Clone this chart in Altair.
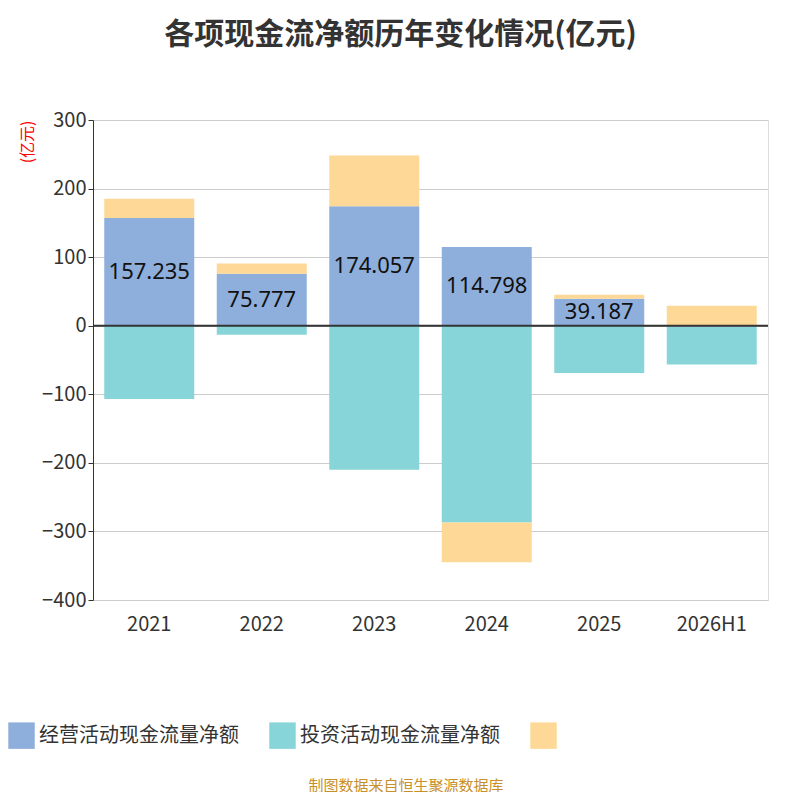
import altair as alt
import pandas as pd

years = ["2021", "2022", "2023", "2024", "2025", "2026H1"]
operating = [157.235, 75.777, 174.057, 114.798, 39.187, -1.5]
investing = [-107, -13, -210, -287, -69, -55]
financing = [28, 15, 74, -58, 6, 29]
series = ["经营活动现金流量净额", "投资活动现金流量净额", "筹资活动现金流量净额"]
colors = ["#8eaedb", "#88d5d9", "#fed896"]

rows = []
for i, y in enumerate(years):
    for k, (s, vals) in enumerate(zip(series, [operating, investing, financing])):
        rows.append({"year": y, "series": s, "value": vals[i], "order": k})
df = pd.DataFrame(rows)
lab = pd.DataFrame({"year": years[:5], "mid": [v / 2 for v in operating[:5]],
                    "label": [f"{v:g}" for v in operating[:5]]})

xenc = alt.X("year:N", sort=years, title=None,
             scale=alt.Scale(paddingInner=0.2, paddingOuter=0.1),
             axis=alt.Axis(domain=False, ticks=False, labelAngle=0, labelFontSize=20, labelAlign="center",
                           labelColor="#333", labelPadding=14))
yscale = alt.Scale(domain=[-400, 300], nice=False)

text = alt.Chart(lab).mark_text(fontSize=22, color="#111", font="Noto Sans").encode(
    x=alt.X("year:N", sort=years), y=alt.Y("mid:Q", scale=yscale), text="label:N")

bars = alt.Chart(df).mark_bar().encode(
    x=xenc,
    y=alt.Y("value:Q", scale=yscale, stack="zero", title="(亿元)",
            axis=alt.Axis(values=list(range(-400, 301, 100)), labelFontSize=20, labelColor="#333",
                          domainColor="#333", tickColor="#333", gridColor="#ccc",
                          titleColor="red", titleFontSize=16, titleFontWeight="normal",
                          titleAngle=270, titleAnchor="end", titleAlign="right", titleY=0, titleX=-58)),
    color=alt.Color("series:N", sort=series, scale=alt.Scale(domain=series, range=colors),
                    legend=alt.Legend(orient="none", legendX=-85, legendY=602, direction="horizontal",
                                      title=None, symbolType="square", symbolSize=700,
                                      symbolStrokeWidth=0, labelFontSize=20, labelColor="#333",
                                      columnPadding=30, labelLimit=0,
                                      labelExpr="datum.label == '筹资活动现金流量净额' ? '' : datum.label")),
    order=alt.Order("order:Q"))

zero = alt.Chart(pd.DataFrame({"z": [0]})).mark_rule(color="#333", strokeWidth=2).encode(
    y=alt.Y("z:Q", scale=yscale))

src = alt.Chart(pd.DataFrame({"t": ["制图数据来自恒生聚源数据库"]})).mark_text(
    fontSize=15, color="#c8902a", font="Noto Sans CJK SC").encode(
    text="t:N", x=alt.value(313), y=alt.value(666))

chart = alt.layer(bars, text, zero, src).properties(
    width=675, height=480,
    autosize=alt.AutoSizeParams(type="none"),
    padding={"left": 85, "top": 112, "right": 16, "bottom": 192},
    title=alt.TitleParams("各项现金流净额历年变化情况(亿元)", fontSize=30, fontWeight="bold",
                          color="#333", font="Noto Sans CJK SC", offset=60, anchor="middle", dx=-30),
).configure_view(stroke=None).configure(font="Noto Sans CJK SC")

chart.save("out.html", embed_options={"renderer": "svg", "actions": False})
